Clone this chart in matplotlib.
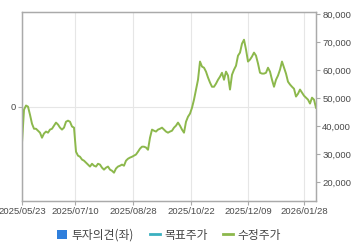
import matplotlib
matplotlib.use("Agg")
import matplotlib.pyplot as plt
from matplotlib.patches import Patch
from matplotlib.lines import Line2D

# adjusted close, one value per plotted step (trading-day index)
prices = [
    34000, 45800, 47300, 46900, 44000, 40800, 39000, 39000, 38300, 37600,
    35800, 37300, 38000, 37600, 38700, 39000, 40100, 41200, 40500, 39400,
    38700, 39400, 41500, 41900, 41500, 39800, 39400, 30800, 29400, 29000,
    28000, 27600, 26900, 26200, 25500, 26500, 25800, 25500, 26500, 26200,
    25100, 24400, 25100, 25500, 24400, 24000, 23300, 24800, 25500, 25800,
    26200, 25800, 27600, 28300, 28700, 29000, 29400, 29800, 30800, 31900,
    32600, 32600, 32300, 31500, 35800, 38700, 38300, 38000, 38700, 39000,
    39400, 38700, 38000, 37600, 38000, 38300, 39400, 40100, 41200, 40100,
    38700, 37600, 41500, 43300, 44400, 46500, 49400, 53000, 56500, 63000,
    61200, 60800, 59400, 57300, 55500, 54000, 54000, 55100, 56500, 57600,
    59000, 56500, 59400, 58000, 53000, 58300, 60100, 61500, 65100, 66200,
    69400, 70800, 67300, 63000, 63700, 64800, 66200, 65100, 62300, 59000,
    58700, 58700, 59000, 60800, 59400, 56500, 54000, 56500, 58000, 60100,
    63000, 60800, 58700, 55800, 54800, 54000, 53300, 50500, 51500, 53000,
    51900, 50800, 50100, 49400, 48000, 50100, 49400, 46500,
]
x_ticks = [0, 26.5, 55.5, 84.5, 113, 141]
x_labels = ["2025/05/23", "2025/07/10", "2025/08/28",
            "2025/10/22", "2025/12/09", "2026/01/28"]
price_ticks = [20000, 30000, 40000, 50000, 60000, 70000, 80000]
legend_labels = ["투자의견(좌)", "목표주가", "수정주가"]

grey = "#aaaaaa"
text_c = "#4a4a4a"
tick_font = "Liberation Sans"

fig = plt.figure(figsize=(3.6, 2.48), dpi=100)
ax = fig.add_axes([22 / 360, 1 - 201 / 248, 294 / 360, 189 / 248])
ax2 = ax.twinx()

# left axis: opinion scale, only 0 shown
ax.set_ylim(-1, 1)
ax.set_yticks([0])
ax.set_yticklabels(["0"], fontsize=6.8, color=text_c, family=tick_font)
ax.axhline(0, color="#e6e6e6", lw=0.8, zorder=0)
ax.set_xlim(0, len(prices) - 1)
ax.set_xticks(x_ticks)
ax.set_xticklabels(x_labels, fontsize=6.8, color=text_c, family=tick_font)
ax.grid(axis="x", color="#e6e6e6", lw=0.8)
ax.set_axisbelow(True)

ax2.plot(range(len(prices)), prices, color="#8cb84c", lw=1.4)
ax2.set_ylim(13200, 80700)
ax2.set_yticks(price_ticks)
ax2.set_yticklabels([f"{v:,}" for v in price_ticks], fontsize=6.8,
                    color=text_c, family=tick_font)

for a in (ax, ax2):
    for s in a.spines.values():
        s.set_color(grey)
        s.set_linewidth(0.9)
    a.tick_params(colors=grey, length=3, width=0.8, pad=1.5, labelcolor=text_c)

handles = [
    Patch(facecolor="#2f7fdc", edgecolor="none"),
    Line2D([], [], color="#3ab0c0", lw=2),
    Line2D([], [], color="#8cb84c", lw=2),
]
fig.legend(handles, legend_labels, loc="center", bbox_to_anchor=(0.47, 1 - 235 / 248),
           ncol=3, frameon=False, handlelength=0.85, handleheight=0.85,
           handletextpad=0.4, columnspacing=1.3,
           prop={"family": ["Noto Sans CJK KR", "DejaVu Sans"], "size": 8.5},
           labelcolor="#444444")

fig.savefig("out.png", dpi=100)
